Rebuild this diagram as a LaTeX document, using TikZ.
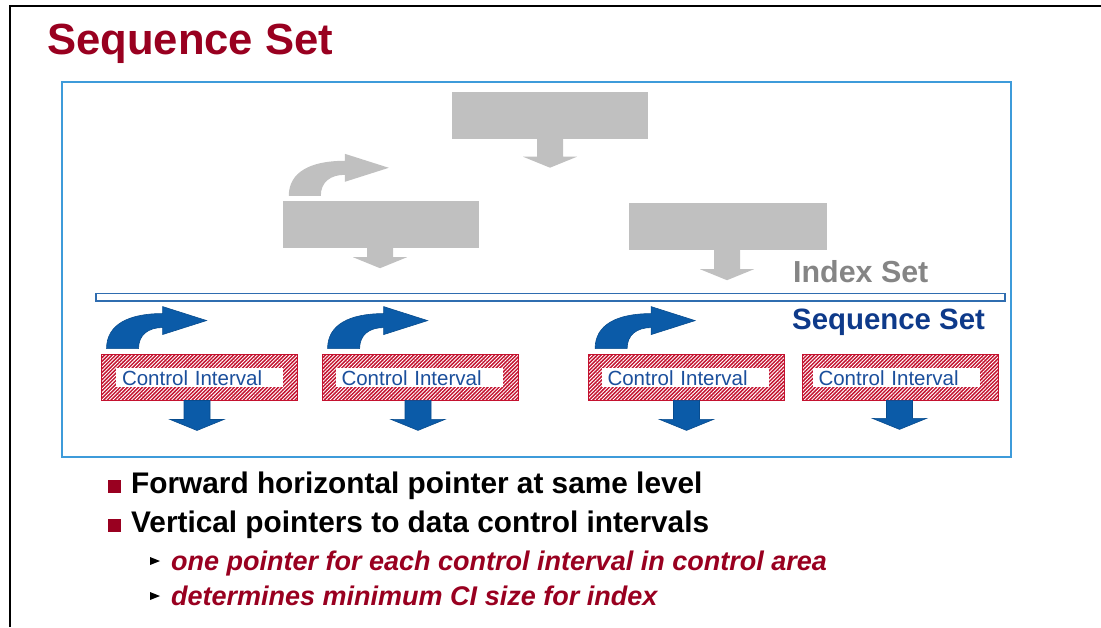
\documentclass[tikz,border=0pt]{standalone}
\usepackage{fontspec}
\setmainfont{Liberation Sans}
\usetikzlibrary{patterns.meta}
\definecolor{titlered}{HTML}{990020}
\definecolor{cired}{HTML}{C4122F}
\definecolor{ciblue}{HTML}{1B4F9C}
\definecolor{arrblue}{HTML}{0B5BA8}
\definecolor{arrblueedge}{HTML}{084C8E}
\definecolor{seqblue}{HTML}{0E3A8A}
\definecolor{framebl}{HTML}{3E9BDA}
\definecolor{barbl}{HTML}{2F6DB0}
\definecolor{boxgray}{HTML}{C0C0C0}
\definecolor{txtgray}{HTML}{858585}
\tikzset{
  graybox/.style={fill=boxgray, inner sep=0, minimum height=47pt},
  cibox/.style={draw=cired, line width=0.8pt, preaction={fill=cired},
    pattern={Lines[angle=45,distance=2.6pt,line width=0.9pt]}, pattern color=white,
    minimum width=196pt, minimum height=46pt, inner sep=0},
  cilabel/.style={fill=white, inner sep=0, inner xsep=6pt, text width=155pt, align=left,
    minimum height=19pt, text height=15pt, text depth=0pt, text=ciblue,
    font=\fontsize{20.5}{22}\selectfont},
  pics/curvy/.style={code={
    \path[pic actions] (0,0) .. controls (0,-24) and (22,-35) .. (56,-35)
      -- (56,-42) -- (100,-28) -- (56,-14) -- (56,-21)
      .. controls (42,-21) and (32,-14) .. (32,0) -- cycle;}},
  pics/darrow/.style={code={
    \path[pic actions] (-13,0) -- (13,0) -- (13,#1) -- (27,#1) -- (0,#1+11)
      -- (-27,#1) -- (-13,#1) -- cycle;}},
  bluearrow/.style={fill=arrblue, draw=arrblueedge, line width=0.6pt},
  grayarrow/.style={fill=boxgray},
  bullettxt/.style={anchor=base west, inner sep=0, font=\fontsize{29.8}{32}\selectfont\bfseries},
  subtxt/.style={anchor=base west, inner sep=0, text=titlered,
    font=\fontsize{27}{30}\selectfont\bfseries\itshape},
}
\begin{document}
\begin{tikzpicture}[x=1pt,y=-1pt]
\useasboundingbox (0,0) rectangle (1101,627);
\fill[white] (0,0) rectangle (1101,627);
% outer black frame
\draw[line width=2.2pt] (10,627) -- (10,6) -- (1101,6);
% title
\node[anchor=base west, inner sep=0, text=titlered,
  font=\fontsize{43.6}{48}\selectfont\bfseries] (title) at (47,54) {Sequence Set};
% blue frame
\draw[framebl, line width=1.8pt] (62,82) rectangle (1011,457);
% gray index set
\node[graybox, minimum width=196pt] (gtop) at (550,115) {};
\node[graybox, minimum width=196pt] (gleft) at (381,224.5) {};
\node[graybox, minimum width=198pt] (gright) at (728,226.5) {};
\pic[grayarrow] at (gtop.south) {darrow=18};
\pic[grayarrow] at ([xshift=-1pt]gleft.south) {darrow=9};
\pic[grayarrow] at ([xshift=-1pt]gright.south) {darrow=19};
\pic[grayarrow] at ([xshift=6pt,yshift=5pt]gleft.north west) {curvy};
\node[anchor=base west, inner sep=0, text=txtgray,
  font=\fontsize{30.4}{33}\selectfont\bfseries] (idx) at (793,282) {Index Set};
% separator bar
\draw[barbl, fill=white, line width=1.4pt] (96,293.5) rectangle (1005,301);
\node[anchor=base west, inner sep=0, text=seqblue,
  font=\fontsize{29.4}{32}\selectfont\bfseries] (seq) at (792,329) {Sequence Set};
% control intervals
\node[cibox] (ci1) at (199,377) {};
\node[cibox] (ci2) at (420,377) {};
\node[cibox] (ci3) at (686.5,377) {};
\node[cibox] (ci4) at (900.5,377) {};
\node[cilabel] (l1) at (199.5,377.5) {Control Interval};
\node[cilabel] (l2) at (419,377.5) {Control Interval};
\node[cilabel] (l3) at (685,377.5) {Control Interval};
\node[cilabel] (l4) at (896,377.5) {Control Interval};
\pic[bluearrow] at ([xshift=6pt,yshift=5pt]ci1.north west) {curvy};
\pic[bluearrow] at ([xshift=6pt,yshift=5pt]ci2.north west) {curvy};
\pic[bluearrow] at ([xshift=7pt,yshift=5pt]ci3.north west) {curvy};
\pic[bluearrow] at ([xshift=-2pt]ci1.south) {darrow=19};
\pic[bluearrow] at ([xshift=-2pt]ci2.south) {darrow=19};
\pic[bluearrow] at (ci3.south) {darrow=19};
\pic[bluearrow] at ([xshift=-1pt]ci4.south) {darrow=18};
% bullets
\fill[titlered] (108,480) rectangle (121,493);
\fill[titlered] (108,519) rectangle (121,532);
\node[bullettxt] (b1) at (131,493) {Forward horizontal pointer at same level};
\node[bullettxt] (b2) at (131,532) {Vertical pointers to data control intervals};
\fill (150,557) -- (160,561) -- (150,565) -- cycle;
\fill (150,592) -- (160,596) -- (150,600) -- cycle;
\node[subtxt] (s1) at (171,570) {one pointer for each control interval in control area};
\node[subtxt] (s2) at (171,605) {determines minimum CI size for index};
\end{tikzpicture}
\end{document}
